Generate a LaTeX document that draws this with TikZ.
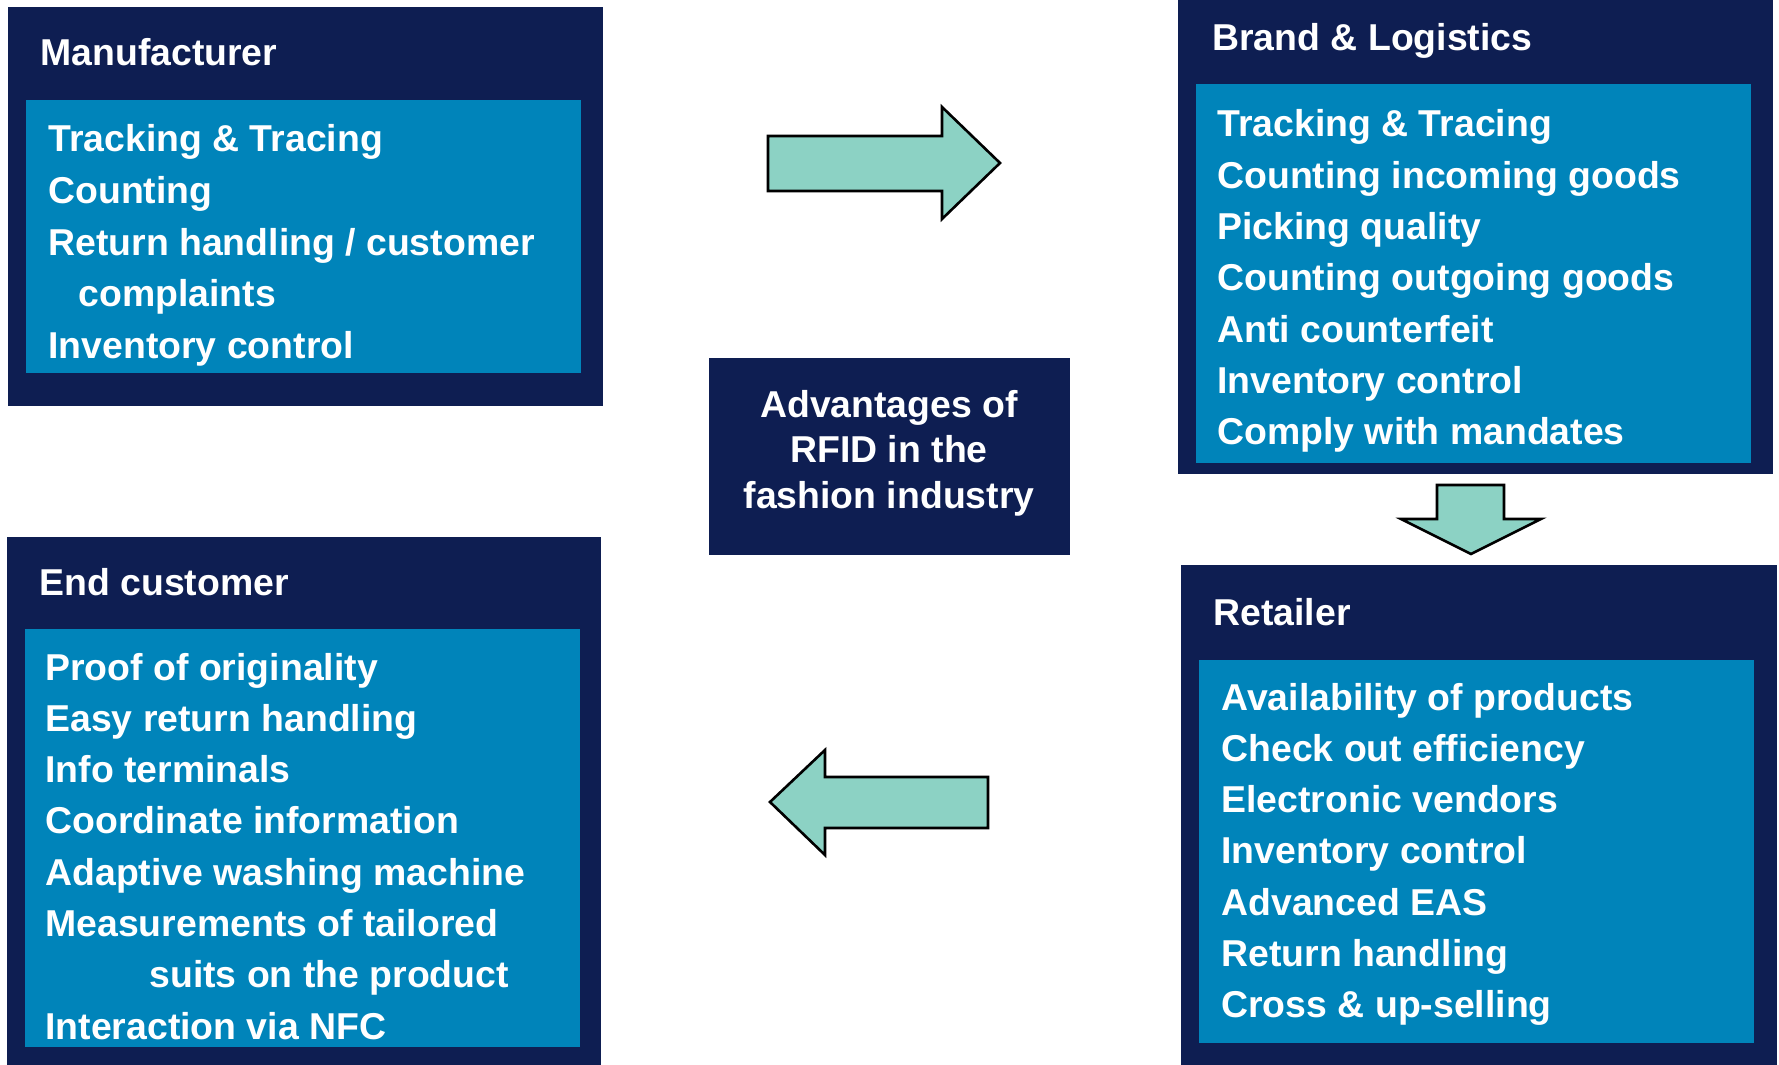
\documentclass[tikz,border=0pt]{standalone}
\usepackage{fontspec}
\setmainfont{Liberation Sans}
\definecolor{navy}{RGB}{14,30,82}
\definecolor{panel}{RGB}{0,132,186}
\definecolor{mint}{RGB}{140,210,196}

\begin{document}
\begin{tikzpicture}[x=0.5pt, y=-0.5pt,
    txt/.style={text=white, inner sep=0pt, anchor=base west,
        font=\bfseries\fontsize{18.7}{22}\selectfont},
    flow/.style={draw=black, line width=1.3pt, fill=mint, line join=miter}]
    \useasboundingbox (0,0) rectangle (1779,1065);

    % Draw the four stage panels (outer frame, then list area)
    \def\panels{8/7/603/406/26/100/581/373,
        1178/0/1773/474/1196/84/1751/463,
        7/537/601/1065/25/629/580/1047,
        1181/565/1777/1065/1199/660/1754/1043}
    \foreach \xa/\ya/\xb/\yb/\xc/\yc/\xd/\yd in \panels {
        \fill[navy] (\xa,\ya) rectangle (\xb,\yb);
        \fill[panel] (\xc,\yc) rectangle (\xd,\yd);
    }

    % Headings
    \node[txt] (manuf) at (40,66) {Manufacturer};
    \node[txt] (brand) at (1212,51) {Brand \& Logistics};
    \node[txt] (endcust) at (39,595) {End customer};
    \node[txt] (retail) at (1213,625) {Retailer};

    % Lists, one baseline every 51.4px
    \def\manuitems{Tracking \& Tracing, Counting,
        Return handling / customer, \hspace*{15pt}complaints,
        Inventory control}
    \foreach \t [count=\i] in \manuitems {
        \node[txt] (manuf-\i) at (48, 152+51.6*\i-51.6) {\t};
    }
    \def\branditems{Tracking \& Tracing, Counting incoming goods,
        Picking quality, Counting outgoing goods, Anti counterfeit,
        Inventory control, Comply with mandates}
    \foreach \t [count=\i] in \branditems {
        \node[txt] (brand-\i) at (1217, 137+51.3*\i-51.3) {\t};
    }
    \def\enditems{Proof of originality, Easy return handling,
        Info terminals, Coordinate information, Adaptive washing machine,
        Measurements of tailored, \hspace*{52pt}suits on the product,
        Interaction via NFC}
    \foreach \t [count=\i] in \enditems {
        \node[txt] (endcust-\i) at (45, 680+51.3*\i-51.3) {\t};
    }
    \def\retailitems{Availability of products, Check out efficiency,
        Electronic vendors, Inventory control, Advanced EAS,
        Return handling, Cross \& up-selling}
    \foreach \t [count=\i] in \retailitems {
        \node[txt] (retail-\i) at (1221, 710+51.3*\i-51.3) {\t};
    }

    % Centre box, base anchor sits on the last line
    \fill[navy] (709,358) rectangle (1070,555);
    \node[txt, anchor=base, align=center,
        font=\bfseries\fontsize{18.7}{22.7}\selectfont] (rfid) at (889,508)
        {Advantages of\\RFID in the\\fashion industry};

    % Block arrows between the stages
    \draw[flow] (768,136) -- (942,136) -- (942,107) -- (1000,163)
        -- (942,219) -- (942,191) -- (768,191) -- cycle;
    \draw[flow] (1437,485) -- (1504,485) -- (1504,519) -- (1541,519)
        -- (1471,554) -- (1401,519) -- (1437,519) -- cycle;
    \draw[flow] (988,777) -- (825,777) -- (825,750) -- (770,802)
        -- (825,855) -- (825,828) -- (988,828) -- cycle;
\end{tikzpicture}
\end{document}
